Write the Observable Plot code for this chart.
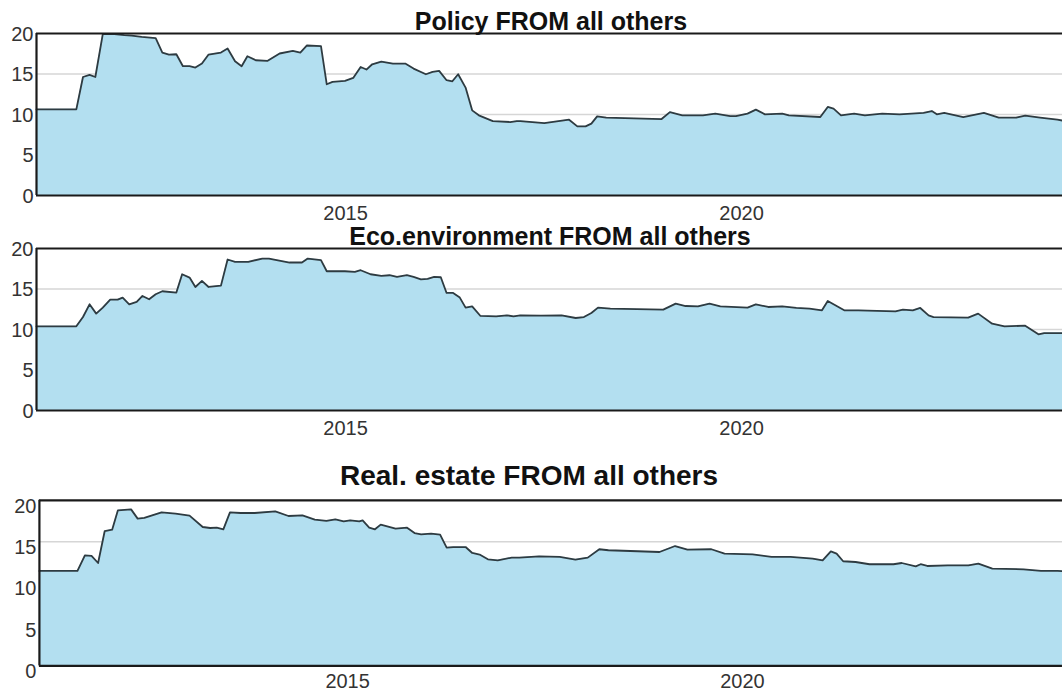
<!DOCTYPE html>
<html>
<head>
<meta charset="utf-8">
<script src="https://cdn.jsdelivr.net/npm/d3@7"></script>
<script src="https://cdn.jsdelivr.net/npm/@observablehq/plot@0.6"></script>
<style>
  html, body { margin: 0; padding: 0; background: #fff; overflow: hidden; }
  #wrap { position: relative; width: 1062px; height: 693px; overflow: hidden; background: #fff; }
  .panel { position: absolute; left: 0; }
  .title { position: absolute; font-family: "Liberation Sans", Arial, sans-serif; font-weight: bold; color: #111; line-height: 1; white-space: nowrap; transform: translateX(-50%); }
</style>
</head>
<body>
<div id="wrap"></div>
<script>
// ---- data (decimal years, spillover values) ----
const policyYears = [2011.098,2011.601,2011.685,2011.768,2011.841,2011.935,2012.081,2012.207,2012.300,2012.426,2012.603,2012.687,2012.770,2012.864,2012.947,2013.031,2013.104,2013.187,2013.271,2013.427,2013.511,2013.605,2013.688,2013.761,2013.866,2014.012,2014.168,2014.335,2014.429,2014.513,2014.690,2014.763,2014.836,2014.993,2015.097,2015.191,2015.264,2015.337,2015.452,2015.598,2015.754,2015.859,2016.015,2016.099,2016.182,2016.276,2016.349,2016.422,2016.516,2016.599,2016.683,2016.860,2017.079,2017.163,2017.207,2017.510,2017.823,2017.927,2018.031,2018.104,2018.177,2018.292,2018.991,2019.096,2019.252,2019.513,2019.669,2019.857,2019.930,2020.076,2020.181,2020.296,2020.515,2020.598,2020.995,2021.089,2021.162,2021.256,2021.422,2021.558,2021.777,2021.996,2022.299,2022.403,2022.466,2022.560,2022.800,2023.061,2023.248,2023.468,2023.582,2023.770,2023.989,2024.053];
const policyValues = [10.64,10.64,14.63,14.88,14.63,19.92,19.92,19.79,19.75,19.58,19.42,17.65,17.40,17.44,15.96,15.96,15.80,16.29,17.40,17.65,18.14,16.58,15.96,17.19,16.70,16.61,17.53,17.85,17.65,18.52,18.43,13.73,14.02,14.14,14.51,15.87,15.55,16.20,16.53,16.29,16.29,15.67,14.97,15.26,15.38,14.23,14.10,14.97,13.32,10.51,9.90,9.19,9.07,9.19,9.19,8.94,9.36,8.54,8.54,8.87,9.77,9.61,9.44,10.30,9.90,9.90,10.11,9.81,9.81,10.11,10.60,10.02,10.11,9.90,9.69,10.93,10.72,9.90,10.11,9.90,10.11,10.02,10.19,10.43,10.02,10.19,9.69,10.19,9.61,9.61,9.86,9.61,9.36,9.25];

const ecoYears = [2011.098,2011.601,2011.685,2011.768,2011.852,2011.935,2012.029,2012.123,2012.186,2012.269,2012.363,2012.436,2012.520,2012.603,2012.687,2012.864,2012.937,2013.031,2013.104,2013.187,2013.271,2013.427,2013.511,2013.605,2013.772,2013.949,2014.033,2014.293,2014.450,2014.523,2014.690,2014.763,2014.993,2015.118,2015.191,2015.316,2015.452,2015.556,2015.650,2015.775,2015.859,2015.952,2016.036,2016.119,2016.203,2016.276,2016.359,2016.443,2016.516,2016.599,2016.704,2016.902,2017.038,2017.121,2017.207,2017.468,2017.729,2017.906,2018.010,2018.104,2018.188,2018.344,2019.012,2019.169,2019.294,2019.450,2019.596,2019.732,2020.076,2020.181,2020.337,2020.515,2020.692,2020.859,2021.016,2021.089,2021.162,2021.297,2021.475,2021.944,2022.038,2022.163,2022.257,2022.362,2022.424,2022.862,2022.988,2023.165,2023.321,2023.582,2023.749,2023.822,2024.053];
const ecoValues = [10.39,10.39,11.54,13.11,11.96,12.70,13.69,13.69,13.94,13.11,13.40,14.14,13.73,14.35,14.72,14.56,16.82,16.41,15.25,16.00,15.25,15.42,18.64,18.35,18.35,18.76,18.76,18.27,18.27,18.76,18.56,17.19,17.19,17.11,17.32,16.82,16.61,16.70,16.49,16.70,16.49,16.20,16.24,16.49,16.45,14.51,14.51,13.94,12.70,12.86,11.67,11.63,11.75,11.63,11.75,11.71,11.75,11.42,11.54,12.04,12.70,12.57,12.45,13.20,12.90,12.86,13.20,12.86,12.70,13.11,12.78,12.86,12.66,12.57,12.37,13.53,13.11,12.37,12.37,12.25,12.45,12.37,12.66,11.75,11.54,11.46,11.96,10.72,10.39,10.47,9.40,9.56,9.56];

const estateYears = [2011.098,2011.580,2011.674,2011.758,2011.841,2011.925,2012.019,2012.092,2012.259,2012.342,2012.426,2012.645,2012.822,2012.999,2013.166,2013.260,2013.344,2013.427,2013.511,2013.646,2013.824,2014.085,2014.252,2014.429,2014.585,2014.732,2014.846,2014.951,2015.034,2015.149,2015.191,2015.274,2015.347,2015.420,2015.608,2015.754,2015.848,2015.932,2016.057,2016.172,2016.255,2016.339,2016.495,2016.579,2016.672,2016.777,2016.902,2017.079,2017.176,2017.426,2017.687,2017.885,2018.042,2018.188,2018.303,2018.950,2019.148,2019.304,2019.607,2019.774,2020.129,2020.369,2020.609,2020.890,2021.016,2021.120,2021.193,2021.276,2021.433,2021.610,2021.913,2022.017,2022.195,2022.257,2022.341,2022.601,2022.862,2022.988,2023.165,2023.561,2023.781,2023.989,2024.053];
const estateValues = [11.47,11.47,13.36,13.28,12.43,16.29,16.46,18.79,18.91,17.79,17.87,18.55,18.39,18.15,16.78,16.66,16.70,16.50,18.55,18.47,18.47,18.67,18.11,18.19,17.67,17.51,17.71,17.47,17.59,17.47,17.59,16.70,16.50,17.07,16.58,16.70,16.05,15.90,15.98,15.86,14.29,14.36,14.36,13.64,13.45,12.88,12.76,13.08,13.08,13.24,13.16,12.84,13.08,14.09,13.97,13.76,14.48,14.05,14.09,13.57,13.48,13.16,13.16,12.96,12.76,13.84,13.57,12.64,12.55,12.28,12.28,12.43,12.03,12.28,12.07,12.15,12.15,12.36,11.76,11.67,11.47,11.47,11.45];

const titles = ["Policy FROM all others", "Eco.environment FROM all others", "Real. estate FROM all others"];
const yTicks = [0, 5, 10, 15, 20];
const yGrid = [5, 10, 15];
const xTicks = [2015, 2020];

// ---- layout ----
const xDomain = [2011.098, 2024.053];
const panels = [
  {years: policyYears, values: policyValues, top: 0,   height: 232, mt: 33, mb: 37, ml: 36, width: 1062, dy: 1, tp: 10,
   title: titles[0], tx: 551, ty: 8.8, tsize: 25},
  {years: ecoYears, values: ecoValues, top: 232, height: 216, mt: 16, mb: 38, ml: 36, width: 1062, dy: 1, tp: 10,
   title: titles[1], tx: 550, ty: 223.8, tsize: 25},
  {years: estateYears, values: estateValues, top: 448, height: 245, mt: 52, mb: 27, ml: 39, width: 1065, dy: 6, tp: 8,
   title: titles[2], tx: 529, ty: 461.5, tsize: 28}
];

const wrap = document.getElementById("wrap");
const font = "'Liberation Sans', Arial, sans-serif";

for (const p of panels) {
  const data = p.years.map((yr, i) => ({year: yr, value: p.values[i]}));
  const svg = Plot.plot({
    width: p.width,
    height: p.height,
    marginTop: p.mt,
    marginBottom: p.mb,
    marginLeft: p.ml,
    marginRight: 0,
    style: {fontFamily: font, fontSize: "20px", color: "#333", background: "transparent"},
    x: {domain: xDomain},
    y: {domain: [0, 20]},
    marks: [
      Plot.ruleY(yGrid, {stroke: "#d6d6d6", strokeWidth: 1.5}),
      Plot.areaY(data, {x: "year", y: "value", fill: "#b3dff0"}),
      Plot.lineY(data, {x: "year", y: "value", stroke: "#2e3b41", strokeWidth: 1.8}),
      Plot.ruleY([0, 20], {stroke: "#1a1a1a", strokeWidth: 2.2}),
      Plot.ruleX([xDomain[0]], {y1: 0, y2: 20, stroke: "#1a1a1a", strokeWidth: 2.2}),
      Plot.axisY(yTicks, {tickSize: 0, tickPadding: 3, dy: p.dy, label: null, fontSize: 20, tickFormat: d => String(d)}),
      Plot.axisX(xTicks, {tickSize: 0, tickPadding: p.tp, label: null, fontSize: 20, tickFormat: d => String(d)})
    ]
  });
  svg.classList.add("panel");
  svg.style.top = p.top + "px";
  wrap.appendChild(svg);

  const t = document.createElement("div");
  t.className = "title";
  t.textContent = p.title;
  t.style.left = p.tx + "px";
  t.style.top = p.ty + "px";
  t.style.fontSize = p.tsize + "px";
  wrap.appendChild(t);
}
</script>
</body>
</html>
